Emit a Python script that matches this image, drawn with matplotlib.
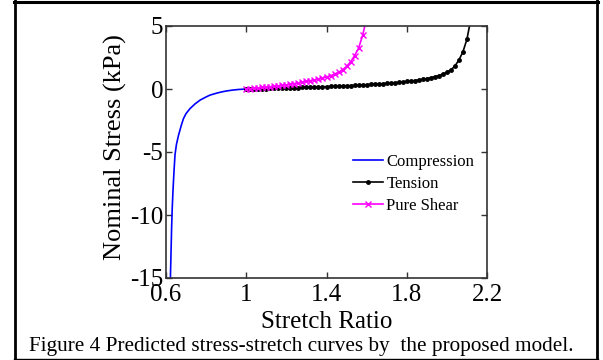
import matplotlib
matplotlib.use("Agg")
import matplotlib.pyplot as plt
from matplotlib.lines import Line2D

# 讀圖估計的資料
comp_x = [0.622, 0.625, 0.628, 0.631, 0.635, 0.640, 0.645, 0.652, 0.662, 0.675,
          0.687, 0.700, 0.720, 0.745, 0.770, 0.800, 0.820, 0.850, 0.875, 0.900,
          0.930, 0.960, 1.000]
comp_y = [-15.0, -13.0, -11.0, -9.5, -8.0, -6.5, -5.2, -4.4, -3.7, -2.95,
          -2.35, -1.95, -1.55, -1.18, -0.88, -0.63, -0.48, -0.34, -0.24, -0.16,
          -0.09, -0.04, 0.0]

tens_x = [1.00, 1.02, 1.04, 1.06, 1.08, 1.10, 1.12, 1.14, 1.16, 1.18,
          1.20, 1.22, 1.24, 1.26, 1.28, 1.30, 1.32, 1.34, 1.36, 1.38,
          1.40, 1.42, 1.44, 1.46, 1.48, 1.50, 1.52, 1.54, 1.56, 1.58,
          1.60, 1.62, 1.64, 1.66, 1.68, 1.70, 1.72, 1.74, 1.76, 1.78,
          1.80, 1.82, 1.84, 1.86, 1.88, 1.90, 1.92, 1.94, 1.96, 1.98,
          2.00, 2.02, 2.04, 2.06, 2.08, 2.10, 2.12]
tens_y = [0.00, 0.005, 0.01, 0.015, 0.02, 0.03, 0.04, 0.05, 0.06, 0.07,
          0.08, 0.09, 0.10, 0.11, 0.12, 0.13, 0.14, 0.15, 0.16, 0.17,
          0.19, 0.20, 0.21, 0.23, 0.24, 0.26, 0.27, 0.29, 0.30, 0.32,
          0.34, 0.36, 0.38, 0.40, 0.42, 0.45, 0.47, 0.50, 0.53, 0.56,
          0.60, 0.63, 0.67, 0.72, 0.77, 0.83, 0.90, 0.98, 1.07, 1.18,
          1.32, 1.52, 1.82, 2.30, 2.95, 3.95, 5.60]

shear_x = [1.00, 1.02, 1.04, 1.06, 1.08, 1.10, 1.12, 1.14, 1.16, 1.18,
           1.20, 1.22, 1.24, 1.26, 1.28, 1.30, 1.32, 1.34, 1.36, 1.38,
           1.40, 1.42, 1.44, 1.46, 1.48, 1.50, 1.52, 1.54, 1.56, 1.58, 1.60]
shear_y = [0.00, 0.03, 0.06, 0.09, 0.12, 0.15, 0.18, 0.21, 0.25, 0.29,
           0.33, 0.38, 0.43, 0.48, 0.54, 0.60, 0.66, 0.72, 0.79, 0.86,
           0.95, 1.05, 1.18, 1.33, 1.52, 1.80, 2.15, 2.65, 3.25, 4.25, 5.60]

x_ticks = [0.6, 1, 1.4, 1.8, 2.2]
x_tick_labels = ["0.6", "1", "1.4", "1.8", "2.2"]
y_ticks = [-15, -10, -5, 0, 5]
y_tick_labels = ["-15", "-10", "-5", "0", "5"]

plt.rcParams['font.family'] = ['Liberation Serif', 'DejaVu Serif']

W, H = 603, 360
fig = plt.figure(figsize=(W / 100, H / 100), dpi=100)
ax = fig.add_axes([166 / W, 1 - 278 / H, (487 - 166) / W, (278 - 26) / H])

ax.plot(comp_x, comp_y, color='#0000ff', lw=1.2, label='Compression')
ax.plot(tens_x, tens_y, color='black', lw=1.2, marker='.', ms=5, label='Tension')
ax.plot(shear_x, shear_y, color='#ff00ff', lw=1.2, marker='x', ms=4.5, mew=1.0,
        label='Pure Shear')

ax.set_xlim(0.6, 2.2)
ax.set_ylim(-15, 5)
ax.set_xticks(x_ticks)
ax.set_xticklabels(x_tick_labels)
ax.set_yticks(y_ticks)
ax.set_yticklabels(y_tick_labels)
ax.tick_params(direction='in', top=True, right=True, length=4, width=1,
               labelsize=18, color='#333333')
ax.tick_params(axis='x', pad=4)
ax.tick_params(axis='y', pad=2)
for s in ax.spines.values():
    s.set_color('#333333')
    s.set_linewidth(1.2)

ax.set_xlabel('Stretch Ratio', fontsize=18, labelpad=4)
ax.set_ylabel('Nominal Stress (kPa)', fontsize=19)
ax.yaxis.set_label_coords((127 - 166) / 321, (278 - 147) / 252)

ax.legend(loc='upper left', bbox_to_anchor=(353 / W, 1 - 154 / H),
          bbox_transform=fig.transFigure, frameon=False, fontsize=12,
          handlelength=1.8, handletextpad=0.2, labelspacing=0.35,
          borderpad=0, borderaxespad=0)

# 外框
fig.add_artist(Line2D([15 / W, 15 / W], [0, 1], transform=fig.transFigure, color='black', lw=2))
fig.add_artist(Line2D([597 / W, 597 / W], [0, 1], transform=fig.transFigure, color='black', lw=2))
fig.add_artist(Line2D([14 / W, 598 / W], [1 - 1.5 / H, 1 - 1.5 / H], transform=fig.transFigure, color='black', lw=2.2))
fig.add_artist(Line2D([14 / W, 598 / W], [1 - 358.5 / H, 1 - 358.5 / H], transform=fig.transFigure, color='black', lw=1))

fig.text(0.499, 1 - 346 / H, 'Figure 4 Predicted stress-stretch curves by  the proposed model.',
         ha='center', va='center', fontsize=15.3)

fig.savefig('out.png', dpi=100)
